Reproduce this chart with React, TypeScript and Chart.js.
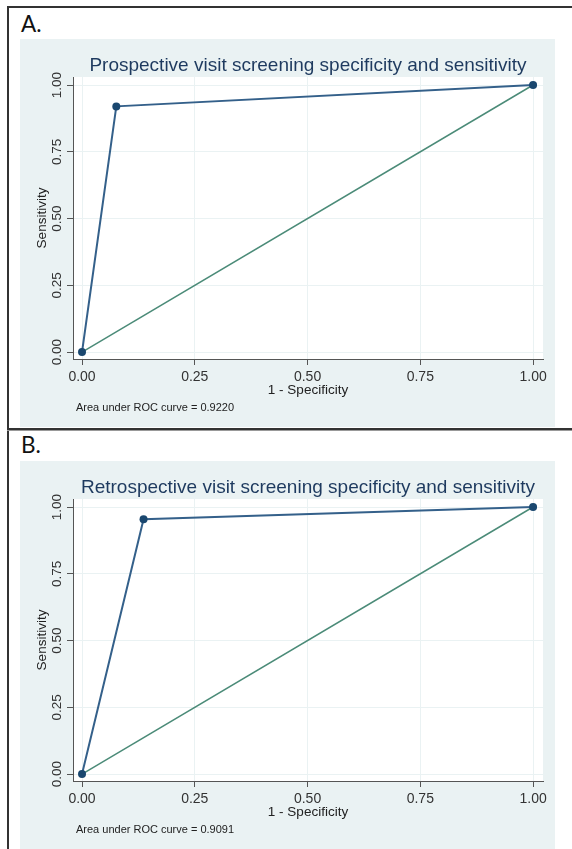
import React, { useEffect, useRef } from "react";
import { Chart, registerables } from "chart.js";

Chart.register(...registerables);

// Axis ticks shared by both ROC panels
const X_TICKS = [0, 0.25, 0.5, 0.75, 1];
const Y_TICKS = [0, 0.25, 0.5, 0.75, 1];

// Prospective visit screening: ROC points (1 - specificity, sensitivity)
const PROSPECTIVE_FPR = [0, 0.076, 1];
const PROSPECTIVE_SENS = [0, 0.92, 1];
const PROSPECTIVE_AUC = 0.922;

// Retrospective visit screening
const RETROSPECTIVE_FPR = [0, 0.1364, 1];
const RETROSPECTIVE_SENS = [0, 0.9545, 1];
const RETROSPECTIVE_AUC = 0.9091;

// Chance (no-discrimination) reference line
const REFERENCE_X = [0, 1];
const REFERENCE_Y = [0, 1];

const FONT = "'Liberation Sans', Arial, sans-serif";
const BG = "#eaf2f3";
const NAVY = "#1a476f";
const ROC_LINE = "#34608a";
const TEAL = "#4b8b78";

const CANVAS_W = 535;
const CANVAS_H = 388;

type PanelProps = {
  title: string;
  fpr: number[];
  sens: number[];
  auc: number;
};

function RocPanel({ title, fpr, sens, auc }: PanelProps) {
  const ref = useRef<HTMLCanvasElement | null>(null);

  useEffect(() => {
    if (!ref.current) return;

    const decor = {
      id: "rocDecor",
      beforeDraw(chart: any) {
        const { ctx, chartArea: a, width, height } = chart;
        ctx.save();
        ctx.fillStyle = BG;
        ctx.fillRect(0, 0, width, height);
        ctx.fillStyle = "#ffffff";
        ctx.fillRect(a.left, a.top, a.right - a.left, a.bottom - a.top);
        ctx.restore();
      },
      afterDraw(chart: any) {
        const { ctx, chartArea: a } = chart;
        const yScale = chart.scales.y;
        ctx.save();
        // graph title, centred over the plot region
        ctx.fillStyle = "#1e3a5f";
        ctx.font = `19px ${FONT}`;
        ctx.textAlign = "center";
        ctx.textBaseline = "alphabetic";
        ctx.fillText(title, (a.left + a.right) / 2, 31.5);

        // vertical y tick labels
        ctx.fillStyle = "#333333";
        ctx.font = `13.5px ${FONT}`;
        ctx.textAlign = "center";
        ctx.textBaseline = "middle";
        for (const t of yScale.ticks) {
          const py = yScale.getPixelForValue(t.value);
          ctx.save();
          ctx.translate(37, py);
          ctx.rotate(-Math.PI / 2);
          ctx.fillText(Number(t.value).toFixed(2), 0, 0);
          ctx.restore();
        }

        // note with the area under the curve
        ctx.fillStyle = "#222222";
        ctx.font = `11px ${FONT}`;
        ctx.textAlign = "left";
        ctx.textBaseline = "alphabetic";
        ctx.fillText(`Area under ROC curve = ${auc.toFixed(4)}`, 56, 372);
        ctx.restore();
      },
    };

    const chart = new Chart(ref.current, {
      type: "scatter",
      data: {
        datasets: [
          {
            label: "ROC",
            data: fpr.map((x, i) => ({ x, y: sens[i] })),
            showLine: true,
            borderColor: ROC_LINE,
            borderWidth: 2,
            pointRadius: 4,
            pointBackgroundColor: NAVY,
            pointBorderColor: NAVY,
            pointBorderWidth: 0,
          },
          {
            label: "Reference",
            data: REFERENCE_X.map((x, i) => ({ x, y: REFERENCE_Y[i] })),
            showLine: true,
            borderColor: TEAL,
            borderWidth: 1.5,
            pointRadius: 0,
          },
        ],
      },
      options: {
        responsive: false,
        animation: false,
        events: [],
        layout: { padding: { top: 38, right: 12, left: 0, bottom: 0 } },
        plugins: {
          legend: { display: false },
          tooltip: { enabled: false },
          title: { display: false },
        },
        scales: {
          x: {
            type: "linear",
            min: -0.02,
            max: 1.022,
            afterBuildTicks: (s: any) => {
              s.ticks = X_TICKS.map((value) => ({ value }));
            },
            afterFit: (s: any) => {
              s.height = 68;
            },
            ticks: {
              color: "#333333",
              font: { family: FONT, size: 14 },
              padding: 4,
              maxRotation: 0,
              callback: (v: any) => Number(v).toFixed(2),
            },
            grid: {
              color: BG,
              lineWidth: 1,
              tickColor: "#555555",
              tickLength: 6,
            },
            border: { display: true, color: "#555555", width: 1 },
            title: {
              display: true,
              text: "1 - Specificity",
              color: "#222222",
              font: { family: FONT, size: 13.5 },
              padding: { top: 0, bottom: 29 },
            },
          },
          y: {
            type: "linear",
            min: -0.026,
            max: 1.03,
            afterBuildTicks: (s: any) => {
              s.ticks = Y_TICKS.map((value) => ({ value }));
            },
            afterFit: (s: any) => {
              s.width = 53;
            },
            ticks: { display: false },
            grid: {
              color: BG,
              lineWidth: 1,
              tickColor: "#555555",
              tickLength: 6,
            },
            border: { display: true, color: "#555555", width: 1 },
            title: {
              display: true,
              text: "Sensitivity",
              color: "#222222",
              font: { family: FONT, size: 13.5 },
              padding: { top: 14, bottom: 0 },
            },
          },
        },
      },
      plugins: [decor],
    });

    return () => chart.destroy();
  }, [title, fpr, sens, auc]);

  return (
    <canvas
      ref={ref}
      width={CANVAS_W}
      height={CANVAS_H}
      style={{ width: CANVAS_W, height: CANVAS_H, display: "block" }}
    />
  );
}

const line = (style: React.CSSProperties): React.CSSProperties => ({
  position: "absolute",
  background: "#333333",
  ...style,
});

const panelLabel: React.CSSProperties = {
  position: "absolute",
  left: 21,
  fontFamily: "Lato, 'Open Sans', sans-serif",
  fontSize: 22.5,
  lineHeight: 1,
  color: "#111111",
};

export default function App() {
  return (
    <div
      style={{
        position: "absolute",
        left: 0,
        top: 0,
        width: 572,
        height: 849,
        background: "#ffffff",
        overflow: "hidden",
      }}
    >
      {/* frame around the two panels */}
      <div style={line({ left: 7, top: 6, width: 565, height: 2 })} />
      <div style={line({ left: 7, top: 6, width: 2, height: 843 })} />
      <div style={line({ left: 7, top: 428, width: 565, height: 2 })} />
      <div style={line({ left: 7, top: 430, width: 565, height: 1, background: "#999999" })} />

      <div style={{ ...panelLabel, top: 12.5 }}>A.</div>
      <div style={{ position: "absolute", left: 20, top: 39 }}>
        <RocPanel
          title="Prospective visit screening specificity and sensitivity"
          fpr={PROSPECTIVE_FPR}
          sens={PROSPECTIVE_SENS}
          auc={PROSPECTIVE_AUC}
        />
      </div>

      <div style={{ ...panelLabel, top: 434 }}>B.</div>
      <div style={{ position: "absolute", left: 20, top: 461 }}>
        <RocPanel
          title="Retrospective visit screening specificity and sensitivity"
          fpr={RETROSPECTIVE_FPR}
          sens={RETROSPECTIVE_SENS}
          auc={RETROSPECTIVE_AUC}
        />
      </div>
    </div>
  );
}
